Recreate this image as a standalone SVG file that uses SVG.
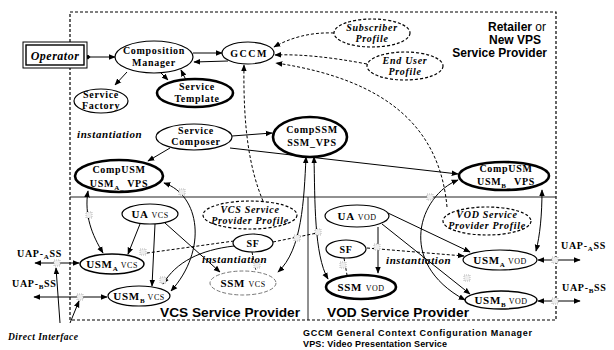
<svg xmlns="http://www.w3.org/2000/svg" width="614" height="350" viewBox="0 0 614 350">
<style>
.n{fill:#fff;stroke:#000;stroke-width:1.2}
.b{stroke-width:2.6}
.d{stroke-dasharray:3,2}
.f{stroke:#777;stroke-width:0.9;stroke-dasharray:3,2}
.t{font-family:"Liberation Serif","Times New Roman",serif;font-weight:bold;font-size:10px;text-anchor:middle;letter-spacing:0.7px;fill:#000}
.i{font-style:italic}
.sm{font-weight:normal;font-size:8px;letter-spacing:0.5px}
.sub{font-size:7px}
.s{font-family:"Liberation Sans",Arial,sans-serif;font-weight:bold;fill:#000}
.c{fill:none;stroke:#000;stroke-width:1}
.cd{stroke-dasharray:3,2}
.g{fill:#eee;stroke:#aaa;stroke-width:0.8;stroke-dasharray:1,1}
.bd{fill:none;stroke:#000;stroke-width:1.2;stroke-dasharray:3,2}
.inst{text-anchor:start;font-size:11px;letter-spacing:0.6px}
</style>
<defs>
<marker id="ah" viewBox="0 0 10 10" refX="9" refY="5" markerWidth="7" markerHeight="7" orient="auto-start-reverse" markerUnits="userSpaceOnUse"><path d="M0,1 L10,5 L0,9 z" fill="#000"/></marker>
<marker id="dot" viewBox="0 0 10 10" refX="5" refY="5" markerWidth="5" markerHeight="5" orient="auto" markerUnits="userSpaceOnUse"><path d="M0,5 L5,0 L10,5 L5,10 z" fill="#000"/></marker>
</defs>
<rect width="614" height="350" fill="#fff"/>

<g id="frame">
<path class="bd" d="M70,42 V12 H556 V320 H70 V68"/>
<line x1="70" y1="197" x2="556" y2="197" stroke="#222" stroke-width="1"/>
<line x1="308" y1="197" x2="308" y2="320" stroke="#222" stroke-width="1"/>
</g>

<g id="connectors">
<path class="c" d="M88,57 L115,57" marker-start="url(#dot)" marker-end="url(#ah)"/>
<path class="c" d="M193,53 L222,53" marker-end="url(#ah)"/>
<path class="c" d="M228,61 L194,62" marker-end="url(#ah)"/>
<path class="c" d="M160,72 L168,80" marker-end="url(#ah)"/>
<path class="c" d="M186,80 L181,70" marker-end="url(#ah)"/>
<path class="c" d="M127,72 L115,85" marker-end="url(#ah)"/>
<path class="c cd" d="M334,33 C310,32 290,38 274,47" marker-end="url(#ah)"/>
<path class="c cd" d="M367,64 C330,57 300,54 275,55" marker-end="url(#ah)"/>
<path class="c cd" d="M447,207 C440,130 390,80 276,63" marker-end="url(#ah)"/>
<path class="c cd" d="M263,201 C250,170 243,130 244,65" marker-end="url(#ah)"/>
<path class="c" d="M232,136 L272,133" marker-end="url(#ah)"/>
<path class="c" d="M170,148 L148,161" marker-end="url(#ah)"/>
<path class="c" d="M230,148 L458,174" marker-end="url(#ah)"/>
<path class="c" d="M306,157 C304,200 302,250 278,272" marker-start="url(#ah)" marker-end="url(#ah)"/>
<path class="c" d="M314,157 C315,200 314,255 328,279" marker-start="url(#ah)" marker-end="url(#ah)"/>
<path class="c" d="M88,191 C84,215 92,235 103,253" marker-start="url(#ah)" marker-end="url(#ah)"/>
<path class="c" d="M164,183 C200,195 208,250 171,291" marker-start="url(#ah)" marker-end="url(#ah)"/>
<path class="c" d="M542,190 C542,215 540,235 536,251" marker-start="url(#ah)" marker-end="url(#ah)"/>
<path class="c" d="M458,180 C420,195 395,262 465,300" marker-start="url(#ah)" marker-end="url(#ah)"/>
<path class="c" d="M140,224 L128,254" marker-end="url(#ah)"/>
<path class="c" d="M155,224 L152,286" marker-end="url(#ah)"/>
<path class="c" d="M165,223 L220,272" marker-end="url(#ah)"/>
<path class="c f" d="M234,241 L140,254"/>
<path class="c" d="M234,246 C200,250 176,262 163,284" marker-end="url(#ah)"/>
<path class="c f" d="M252,252 L256,271"/>
<path class="c f" d="M273,242 L322,232"/>
<path class="c" d="M378,227 L378,273" stroke-width="1.5" marker-end="url(#ah)"/>
<path class="c" d="M388,213 L470,252" marker-end="url(#ah)"/>
<path class="c" d="M382,224 L470,294" marker-end="url(#ah)"/>
<path class="c f" d="M367,248 L464,256" marker-end="url(#ah)"/>
<path class="c f" d="M344,258 L347,275"/>
<path class="c" d="M35,263 L79,263" marker-start="url(#ah)" marker-end="url(#ah)"/>
<path class="c" d="M34,297 L107,297" marker-start="url(#ah)" marker-end="url(#ah)"/>
<path class="c" d="M60,323 L56,268" marker-end="url(#ah)"/>
<path class="c" d="M70,323 L79,301" marker-end="url(#ah)"/>
<path class="c" d="M538,260 L580,260" marker-start="url(#ah)" marker-end="url(#ah)"/>
<path class="c" d="M538,301 L580,301" marker-start="url(#ah)" marker-end="url(#ah)"/>
<rect class="g" x="54" y="260" width="6" height="6"/>
<rect class="g" x="77" y="294" width="6" height="6"/>
<rect class="g" x="86" y="212" width="6" height="6"/>
<rect class="g" x="140" y="249" width="6" height="6"/>
<rect class="g" x="160" y="277" width="6" height="6"/>
<rect class="g" x="179" y="189" width="6" height="6"/>
<rect class="g" x="254" y="262" width="6" height="6"/>
<rect class="g" x="294" y="235" width="6" height="6"/>
<rect class="g" x="315" y="229" width="6" height="6"/>
<rect class="g" x="340" y="262" width="6" height="6"/>
<rect class="g" x="374" y="244" width="6" height="6"/>
<rect class="g" x="427" y="194" width="6" height="6"/>
<rect class="g" x="464" y="275" width="6" height="6"/>
<rect class="g" x="552" y="257" width="6" height="6"/>
<rect class="g" x="552" y="298" width="6" height="6"/>
</g>

<g id="operator">
<rect x="23" y="42" width="64" height="26" fill="#fff" stroke="#000" stroke-width="1"/>
<rect x="26" y="45" width="58" height="20" fill="none" stroke="#000" stroke-width="1.4"/>
<text class="t i" x="55" y="60" style="font-size:12px;letter-spacing:0.5px">Operator</text>
</g>
<g id="composition-manager">
<ellipse class="n" cx="154" cy="57" rx="39" ry="16"/>
<text class="t" x="154" y="54">Composition</text>
<text class="t" x="154" y="66">Manager</text>
</g>
<g id="gccm">
<ellipse class="n" cx="248" cy="53" rx="26" ry="11"/>
<text class="t" x="249" y="57" style="letter-spacing:1.5px">GCCM</text>
</g>
<g id="subscriber-profile">
<ellipse class="n d" cx="372" cy="33" rx="38" ry="14"/>
<text class="t i" x="372" y="31">Subscriber</text>
<text class="t i" x="372" y="42">Profile</text>
</g>
<g id="end-user-profile">
<ellipse class="n d" cx="405" cy="66" rx="38" ry="14"/>
<text class="t i" x="405" y="64">End User</text>
<text class="t i" x="405" y="75">Profile</text>
</g>
<g id="service-factory">
<ellipse class="n" cx="101" cy="101" rx="27" ry="12"/>
<text class="t" x="101" y="98">Service</text>
<text class="t" x="101" y="109">Factory</text>
</g>
<g id="service-template">
<ellipse class="n b" cx="195" cy="93" rx="38" ry="14"/>
<text class="t" x="197" y="90">Service</text>
<text class="t" x="197" y="102">Template</text>
</g>
<g id="service-composer">
<ellipse class="n" cx="194" cy="137" rx="38" ry="13"/>
<text class="t" x="196" y="134">Service</text>
<text class="t" x="196" y="145">Composer</text>
</g>
<g id="compssm">
<ellipse class="n b" cx="310" cy="137" rx="37" ry="20"/>
<text class="t" x="312" y="133">CompSSM</text>
<text class="t" x="312" y="146">SSM_VPS</text>
</g>
<g id="compusm-a">
<ellipse class="n b" cx="119" cy="176" rx="44" ry="16"/>
<text class="t" x="119" y="173">CompUSM</text>
<text class="t" x="119" y="187">USM<tspan class="sub" dy="3">A_</tspan><tspan dy="-3"> VPS</tspan></text>
</g>
<g id="compusm-b">
<ellipse class="n b" cx="504" cy="176" rx="45" ry="14"/>
<text class="t" x="506" y="172">CompUSM</text>
<text class="t" x="506" y="185">USM<tspan class="sub" dy="3">B_</tspan><tspan dy="-3"> VPS</tspan></text>
</g>
<g id="instantiation-top">
<text class="t i inst" x="77" y="138">instantiation</text>
</g>
<g id="vcs-profile">
<ellipse class="n d" cx="250" cy="215" rx="47" ry="14"/>
<text class="t i" x="250" y="213">VCS Service</text>
<text class="t i" x="250" y="224">Provider Profile</text>
</g>
<g id="vod-profile">
<ellipse class="n d" cx="487" cy="221" rx="44" ry="14"/>
<text class="t i" x="487" y="218">VOD Service</text>
<text class="t i" x="487" y="229">Provider Profile</text>
</g>
<g id="ua-vcs">
<ellipse class="n" cx="150" cy="214" rx="28" ry="10"/>
<text class="t" x="150" y="218" style="font-size:11px">UA <tspan class="sm">VCS</tspan></text>
</g>
<g id="sf-vcs">
<ellipse class="n" cx="253" cy="243" rx="20" ry="9"/>
<text class="t" x="253" y="247">SF</text>
</g>
<g id="usma-vcs">
<ellipse class="n" cx="112" cy="264" rx="32" ry="10" style="stroke-width:1.5"/>
<text class="t" x="112" y="268" style="font-size:11px">USM<tspan class="sub" dy="3">A</tspan><tspan class="sm" dy="-3"> VCS</tspan></text>
</g>
<g id="usmb-vcs">
<ellipse class="n" cx="139" cy="296" rx="31" ry="10"/>
<text class="t" x="139" y="300" style="font-size:11px">USM<tspan class="sub" dy="3">B</tspan><tspan class="sm" dy="-3"> VCS</tspan></text>
</g>
<g id="ssm-vcs">
<ellipse class="n" cx="243" cy="283" rx="33" ry="12" style="stroke:#666;stroke-width:0.9;stroke-dasharray:4,2"/>
<text class="t" x="243" y="287" style="font-size:11px">SSM <tspan class="sm">VCS</tspan></text>
</g>
<g id="instantiation-vcs">
<text class="t i inst" x="202" y="263">instantiation</text>
</g>
<g id="ua-vod">
<ellipse class="n" cx="357" cy="216" rx="32" ry="11"/>
<text class="t" x="357" y="220" style="font-size:11px">UA <tspan class="sm">VOD</tspan></text>
</g>
<g id="sf-vod">
<ellipse class="n" cx="346" cy="249" rx="20" ry="9"/>
<text class="t" x="346" y="253">SF</text>
</g>
<g id="ssm-vod">
<ellipse class="n b" cx="361" cy="287" rx="35" ry="12"/>
<text class="t" x="361" y="291" style="font-size:11px">SSM <tspan class="sm">VOD</tspan></text>
</g>
<g id="instantiation-vod">
<text class="t i inst" x="386" y="264">instantiation</text>
</g>
<g id="usma-vod">
<ellipse class="n" cx="500" cy="260" rx="37" ry="10"/>
<text class="t" x="500" y="264" style="font-size:11px">USM<tspan class="sub" dy="3">A</tspan><tspan class="sm" dy="-3"> VOD</tspan></text>
</g>
<g id="usmb-vod">
<ellipse class="n" cx="501" cy="300" rx="36" ry="9" style="stroke-width:1.5"/>
<text class="t" x="501" y="304" style="font-size:11px">USM<tspan class="sub" dy="3">B</tspan><tspan class="sm" dy="-3"> VOD</tspan></text>
</g>

<g id="labels">
<text class="t" x="17" y="257" style="text-anchor:start">UAP-<tspan class="sub" dy="2">A</tspan><tspan dy="-2">SS</tspan></text>
<text class="t" x="12" y="287" style="text-anchor:start">UAP-<tspan class="sub" dy="2">B</tspan><tspan dy="-2">SS</tspan></text>
<text class="t" x="561" y="249" style="text-anchor:start">UAP-<tspan class="sub" dy="2">A</tspan><tspan dy="-2">SS</tspan></text>
<text class="t" x="562" y="291" style="text-anchor:start">UAP-<tspan class="sub" dy="2">B</tspan><tspan dy="-2">SS</tspan></text>
<text class="t i" x="8" y="340" style="text-anchor:start;font-size:9.5px;letter-spacing:0.5px">Direct Interface</text>
<text class="s" x="546" y="31" text-anchor="end" style="font-size:12px">Retailer <tspan font-weight="normal">or</tspan></text>
<text class="s" x="541" y="44" text-anchor="end" style="font-size:12px">New VPS</text>
<text class="s" x="547" y="57" text-anchor="end" style="font-size:12px">Service Provider</text>
<text class="s" x="160" y="317" style="font-size:13.5px" textLength="140" lengthAdjust="spacingAndGlyphs">VCS Service Provider</text>
<text class="s" x="327" y="317" style="font-size:13.5px" textLength="142" lengthAdjust="spacingAndGlyphs">VOD Service Provider</text>
<text class="s" x="303" y="336" style="font-size:9px" textLength="229">GCCM  General Context Configuration Manager</text>
<text class="s" x="303" y="347" style="font-size:9px" textLength="144">VPS: Video Presentation Service</text>
</g>
</svg>
